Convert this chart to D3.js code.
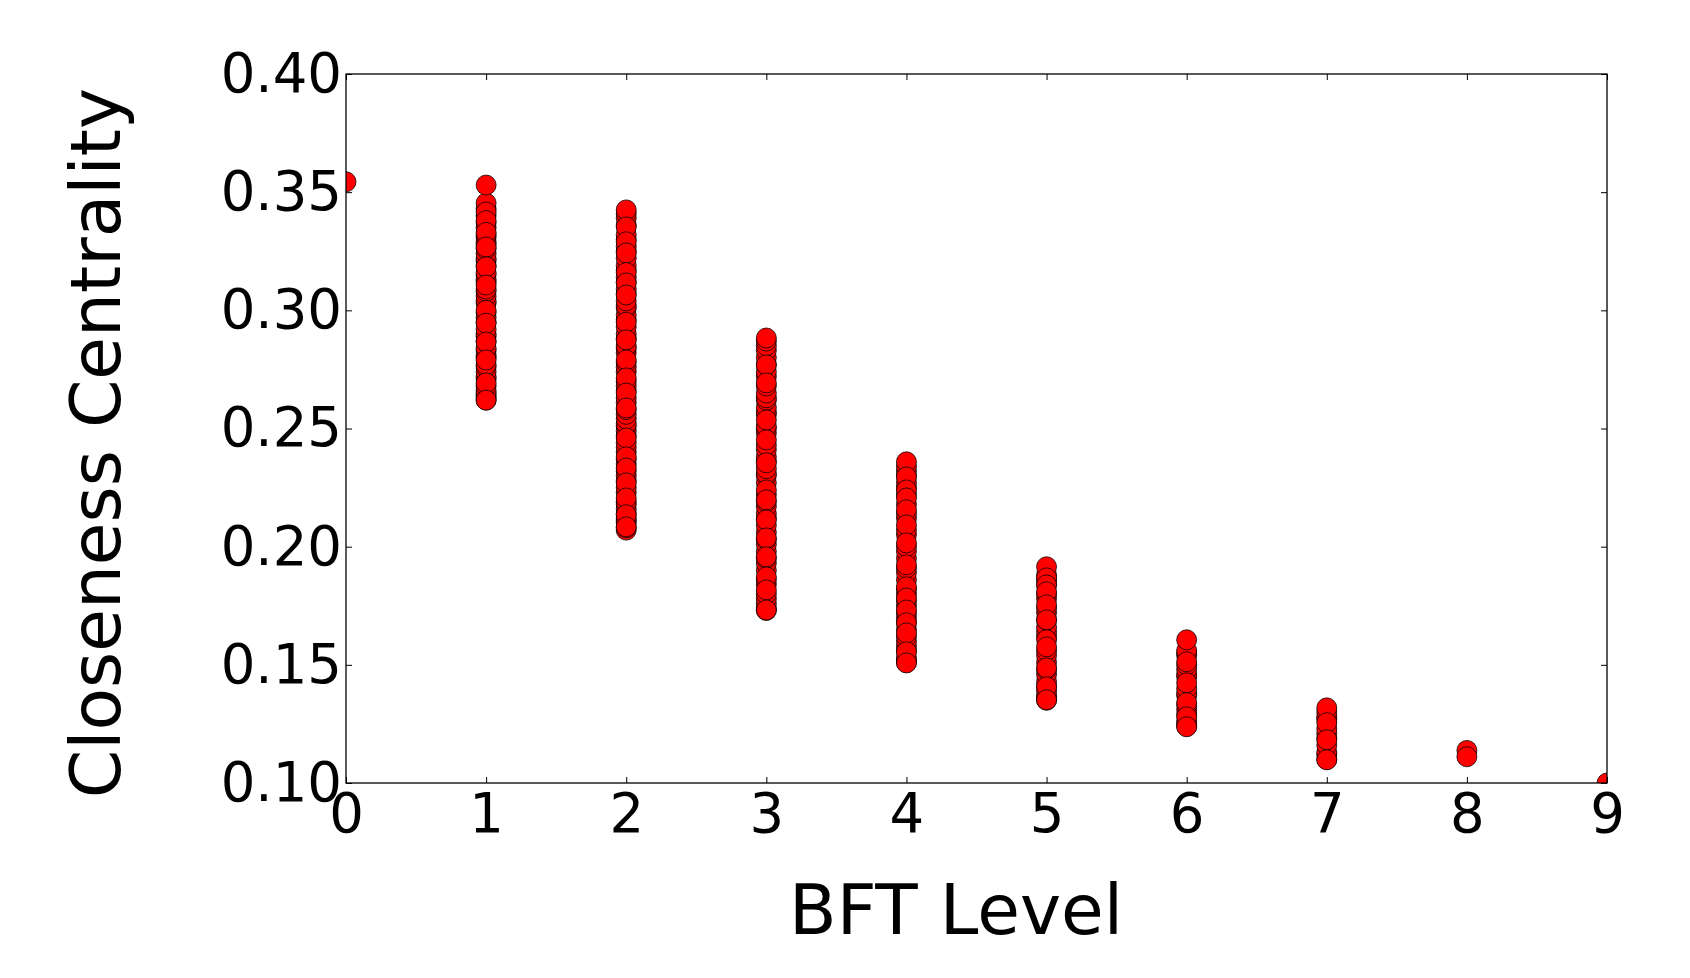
<!DOCTYPE html>
<html>
<head>
<meta charset="utf-8">
<script src="https://cdn.jsdelivr.net/npm/d3@7"></script>
<style>
  html, body { margin: 0; padding: 0; background: #fff; }
  svg { display: block; }
  text { font-family: "DejaVu Sans", sans-serif; fill: #000; }
</style>
</head>
<body>
<svg id="chart" width="1690" height="978"></svg>
<script>
// ---- data ----
const levels = [0, 1, 2, 3, 4, 5, 6, 7, 8, 9];
const xTicks = [0, 1, 2, 3, 4, 5, 6, 7, 8, 9];
const yTicks = [0.10, 0.15, 0.20, 0.25, 0.30, 0.35, 0.40];

const level0 = [0.3544];
const level1 = [0.262, 0.263, 0.264, 0.265, 0.266, 0.268, 0.271, 0.272, 0.274, 0.276, 0.277, 0.280, 0.281,
  0.283, 0.284, 0.287, 0.289, 0.290, 0.292, 0.295, 0.297, 0.299, 0.303, 0.304, 0.306, 0.308, 0.309,
  0.312, 0.313, 0.315, 0.316, 0.319, 0.321, 0.322, 0.324, 0.326, 0.328, 0.329, 0.331, 0.332, 0.335,
  0.337, 0.340, 0.343,
  0.3454, 0.3416, 0.338, 0.333, 0.3268, 0.3184, 0.3107, 0.300, 0.2946, 0.2866, 0.279, 0.2693, 0.262, 0.353];
const level2 = [0.207, 0.208, 0.210, 0.211, 0.212, 0.214, 0.216, 0.218, 0.219, 0.223, 0.225, 0.228, 0.230,
  0.232, 0.235, 0.237, 0.240, 0.242, 0.244, 0.247, 0.249, 0.251, 0.252, 0.254, 0.256, 0.258, 0.261, 0.263,
  0.266, 0.268, 0.270, 0.274, 0.276, 0.278, 0.282, 0.284, 0.285, 0.288, 0.290, 0.293, 0.296, 0.298,
  0.301, 0.302, 0.304, 0.307, 0.309, 0.312, 0.314, 0.317, 0.319, 0.322, 0.325, 0.327, 0.330, 0.332,
  0.336, 0.339, 0.341,
  0.3425, 0.3353, 0.329, 0.3243, 0.316, 0.3116, 0.3065, 0.295, 0.2875, 0.279, 0.2714, 0.265, 0.2587,
  0.246, 0.238, 0.2333, 0.227, 0.2206, 0.2135, 0.2084];
const level3 = [0.173, 0.174, 0.176, 0.178, 0.180, 0.184, 0.186, 0.190, 0.193, 0.195, 0.198, 0.201,
  0.203, 0.206, 0.209, 0.212, 0.214, 0.217, 0.219, 0.222, 0.227, 0.230, 0.231, 0.233, 0.236, 0.238,
  0.241, 0.243, 0.248, 0.250, 0.251, 0.256, 0.257, 0.259, 0.262, 0.263, 0.265, 0.268, 0.272, 0.274,
  0.277, 0.280, 0.283, 0.285, 0.287,
  0.2883, 0.2769, 0.2693, 0.2536, 0.2452, 0.2355, 0.224, 0.2198, 0.2113, 0.2037, 0.1957, 0.1872, 0.1817, 0.1732];
const level4 = [0.151, 0.152, 0.153, 0.156, 0.158, 0.160, 0.162, 0.165, 0.168, 0.170, 0.172, 0.175,
  0.177, 0.180, 0.182, 0.186, 0.189, 0.191, 0.195, 0.198, 0.200, 0.205, 0.207, 0.212, 0.214, 0.218,
  0.222, 0.225, 0.227, 0.230, 0.232, 0.234,
  0.2359, 0.2295, 0.224, 0.2206, 0.2156, 0.2092, 0.2016, 0.1923, 0.183, 0.1783, 0.1732, 0.1678, 0.1635, 0.1555, 0.1508];
const level5 = [0.135, 0.136, 0.137, 0.139, 0.141, 0.143, 0.146, 0.148, 0.151, 0.154, 0.156, 0.162,
  0.164, 0.166, 0.169, 0.172, 0.174, 0.178, 0.180, 0.184, 0.186, 0.188,
  0.1915, 0.1868, 0.1838, 0.1809, 0.1754, 0.169, 0.1606, 0.1576, 0.1487, 0.1407, 0.1352];
const level6 = [0.124, 0.125, 0.126, 0.129, 0.131, 0.133, 0.137, 0.138, 0.140, 0.145, 0.146, 0.148,
  0.150, 0.154, 0.155, 0.156,
  0.1606, 0.1513, 0.1424, 0.134, 0.128, 0.1238];
const level7 = [0.110, 0.112, 0.113, 0.116, 0.119, 0.121, 0.123, 0.127, 0.128, 0.130,
  0.1318, 0.1255, 0.1183, 0.1098];
const level8 = [0.1138, 0.1111];
const level9 = [0.100];

const series = [level0, level1, level2, level3, level4, level5, level6, level7, level8, level9];
const points = [];
levels.forEach((lv, i) => series[i].forEach(v => points.push({ level: lv, value: v })));

// ---- layout ----
const plot = { left: 346, right: 1607, top: 74, bottom: 783 };
const svg = d3.select("#chart");

const x = d3.scaleLinear().domain([0, 9]).range([plot.left, plot.right]);
const y = d3.scaleLinear().domain([0.10, 0.40]).range([plot.bottom, plot.top]);

svg.append("defs").append("clipPath").attr("id", "clip")
  .append("rect")
  .attr("x", plot.left).attr("y", plot.top)
  .attr("width", plot.right - plot.left).attr("height", plot.bottom - plot.top);

// points
svg.append("g").attr("clip-path", "url(#clip)")
  .selectAll("circle").data(points).join("circle")
  .attr("cx", d => x(d.level))
  .attr("cy", d => y(d.value))
  .attr("r", 10)
  .attr("fill", "#ff0000")
  .attr("stroke", "#000")
  .attr("stroke-width", 0.75);

const tickFont = 54.5;
const axisStyle = g => {
  g.selectAll(".domain").remove();
  g.selectAll(".tick line").attr("stroke", "#000").attr("stroke-width", 1);
  g.selectAll(".tick text").attr("font-size", tickFont).attr("font-family", "DejaVu Sans");
};

// bottom axis
svg.append("g").attr("transform", `translate(0,${plot.bottom})`)
  .call(d3.axisBottom(x).tickValues(xTicks).tickFormat(d3.format("d")).tickSize(-6).tickPadding(10))
  .call(axisStyle);
// left axis
svg.append("g").attr("transform", `translate(${plot.left},0)`)
  .call(d3.axisLeft(y).tickValues(yTicks).tickFormat(d3.format(".2f")).tickSize(-6).tickPadding(4))
  .call(axisStyle);
// top axis (ticks only)
svg.append("g").attr("transform", `translate(0,${plot.top})`)
  .call(d3.axisTop(x).tickValues(xTicks).tickFormat("").tickSize(-6))
  .call(axisStyle);
// right axis (ticks only)
svg.append("g").attr("transform", `translate(${plot.right},0)`)
  .call(d3.axisRight(y).tickValues(yTicks).tickFormat("").tickSize(-6))
  .call(axisStyle);

// frame
svg.append("rect")
  .attr("x", plot.left).attr("y", plot.top)
  .attr("width", plot.right - plot.left).attr("height", plot.bottom - plot.top)
  .attr("fill", "none").attr("stroke", "#000").attr("stroke-width", 1.3);

// axis labels
svg.append("text")
  .attr("x", 956).attr("y", 934)
  .attr("text-anchor", "middle")
  .attr("font-size", 69.4)
  .text("BFT Level");

svg.append("text")
  .attr("transform", "translate(120,443) rotate(-90)")
  .attr("text-anchor", "middle")
  .attr("font-size", 69.4)
  .text("Closeness Centrality");
</script>
</body>
</html>
